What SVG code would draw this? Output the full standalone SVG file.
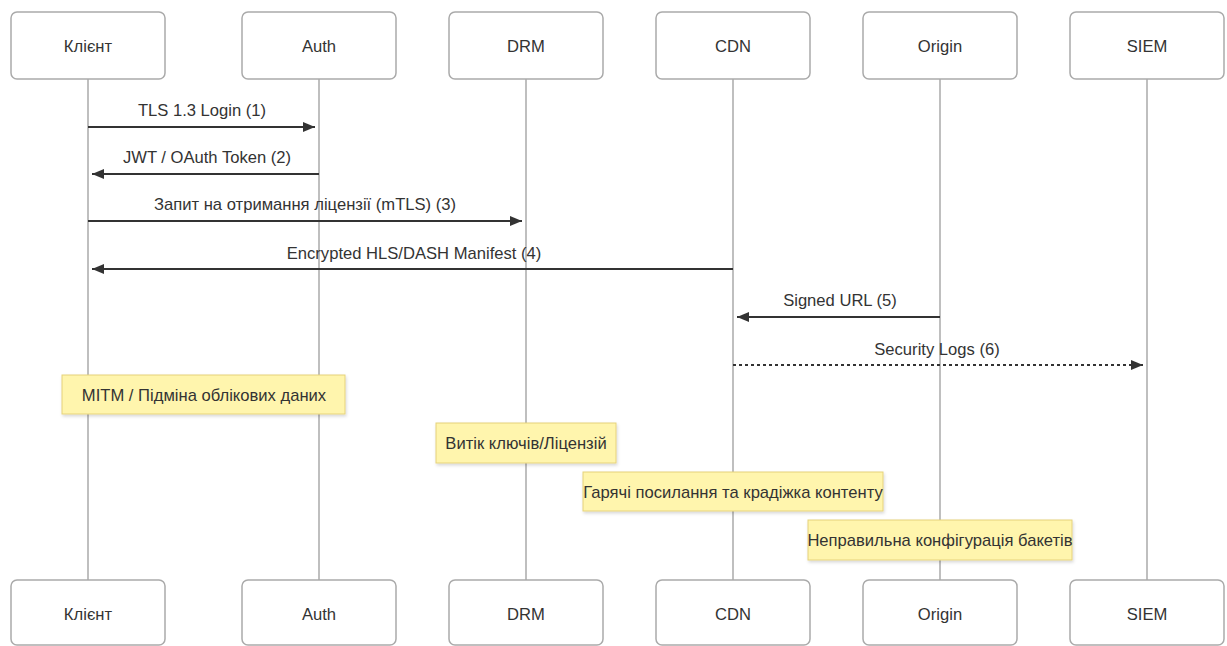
<svg xmlns="http://www.w3.org/2000/svg" width="1227" height="646" viewBox="0 0 1227 646">
  <style>
    .actor { fill: #ffffff; stroke: #aaaaaa; stroke-width: 1.5; }
    .actor-text { font-family: "Liberation Sans", Arial, sans-serif; font-size: 16.6px; fill: #333333; text-anchor: middle; }
    .lifeline { stroke: #aaaaaa; stroke-width: 1.5; fill: none; }
    .msg { stroke: #333333; stroke-width: 2; fill: none; }
    .msg-dotted { stroke: #333333; stroke-width: 2; fill: none; stroke-dasharray: 3 3; }
    .msg-text { font-family: "Liberation Sans", Arial, sans-serif; font-size: 16.6px; fill: #333333; text-anchor: middle; }
    .note { fill: #fff5ad; stroke: #e6d27a; stroke-width: 1; }
    .note-text { font-family: "Liberation Sans", Arial, sans-serif; font-size: 16.6px; fill: #333333; text-anchor: middle; }
  </style>
  <defs>
    <marker id="arrowhead" viewBox="0 0 12 10" refX="12" refY="5" markerWidth="12" markerHeight="10" markerUnits="userSpaceOnUse" orient="auto">
      <path d="M0,0 L12,5 L0,10 Z" fill="#333333"/>
    </marker>
    <filter id="noteShadow" x="-10%" y="-20%" width="120%" height="150%">
      <feDropShadow dx="1" dy="2" stdDeviation="1.5" flood-color="#000000" flood-opacity="0.15"/>
    </filter>
  </defs>

  <rect width="1227" height="646" fill="#ffffff"/>

  <!-- lifelines -->
  <g id="lifelines">
    <line class="lifeline" x1="88" y1="79" x2="88" y2="580"/>
    <line class="lifeline" x1="319" y1="79" x2="319" y2="580"/>
    <line class="lifeline" x1="526" y1="79" x2="526" y2="580"/>
    <line class="lifeline" x1="733" y1="79" x2="733" y2="580"/>
    <line class="lifeline" x1="940" y1="79" x2="940" y2="580"/>
    <line class="lifeline" x1="1147" y1="79" x2="1147" y2="580"/>
  </g>

  <!-- participants (top and bottom) -->
  <g id="client">
    <rect class="actor" x="11" y="12" width="154" height="67" rx="6"/>
    <text class="actor-text" x="88" y="52">Клієнт</text>
    <rect class="actor" x="11" y="580" width="154" height="65" rx="6"/>
    <text class="actor-text" x="88" y="620">Клієнт</text>
  </g>
  <g id="auth">
    <rect class="actor" x="242" y="12" width="154" height="67" rx="6"/>
    <text class="actor-text" x="319" y="52">Auth</text>
    <rect class="actor" x="242" y="580" width="154" height="65" rx="6"/>
    <text class="actor-text" x="319" y="620">Auth</text>
  </g>
  <g id="drm">
    <rect class="actor" x="449" y="12" width="154" height="67" rx="6"/>
    <text class="actor-text" x="526" y="52">DRM</text>
    <rect class="actor" x="449" y="580" width="154" height="65" rx="6"/>
    <text class="actor-text" x="526" y="620">DRM</text>
  </g>
  <g id="cdn">
    <rect class="actor" x="656" y="12" width="154" height="67" rx="6"/>
    <text class="actor-text" x="733" y="52">CDN</text>
    <rect class="actor" x="656" y="580" width="154" height="65" rx="6"/>
    <text class="actor-text" x="733" y="620">CDN</text>
  </g>
  <g id="origin">
    <rect class="actor" x="863" y="12" width="154" height="67" rx="6"/>
    <text class="actor-text" x="940" y="52">Origin</text>
    <rect class="actor" x="863" y="580" width="154" height="65" rx="6"/>
    <text class="actor-text" x="940" y="620">Origin</text>
  </g>
  <g id="siem">
    <rect class="actor" x="1070" y="12" width="154" height="67" rx="6"/>
    <text class="actor-text" x="1147" y="52">SIEM</text>
    <rect class="actor" x="1070" y="580" width="154" height="65" rx="6"/>
    <text class="actor-text" x="1147" y="620">SIEM</text>
  </g>

  <!-- messages -->
  <g id="messages">
    <line class="msg" x1="88" y1="127" x2="315" y2="127" marker-end="url(#arrowhead)"/>
    <text class="msg-text" x="202" y="116">TLS 1.3 Login (1)</text>

    <line class="msg" x1="319" y1="174" x2="92" y2="174" marker-end="url(#arrowhead)"/>
    <text class="msg-text" x="207" y="163">JWT / OAuth Token (2)</text>

    <line class="msg" x1="88" y1="221" x2="522" y2="221" marker-end="url(#arrowhead)"/>
    <text class="msg-text" x="305" y="210">Запит на отримання ліцензії (mTLS) (3)</text>

    <line class="msg" x1="733" y1="269" x2="92" y2="269" marker-end="url(#arrowhead)"/>
    <text class="msg-text" x="414" y="259">Encrypted HLS/DASH Manifest (4)</text>

    <line class="msg" x1="940" y1="317" x2="737" y2="317" marker-end="url(#arrowhead)"/>
    <text class="msg-text" x="840" y="306">Signed URL (5)</text>

    <line class="msg-dotted" x1="733" y1="365" x2="1143" y2="365" marker-end="url(#arrowhead)"/>
    <text class="msg-text" x="937" y="355">Security Logs (6)</text>
  </g>

  <!-- notes -->
  <g id="note-mitm">
    <rect class="note" x="62" y="375" width="283" height="39" filter="url(#noteShadow)"/>
    <text class="note-text" x="204" y="401">MITM / Підміна облікових даних</text>
  </g>
  <g id="note-leak">
    <rect class="note" x="436" y="423" width="180" height="40" filter="url(#noteShadow)"/>
    <text class="note-text" x="526" y="449">Витік ключів/Ліцензій</text>
  </g>
  <g id="note-hotlink">
    <rect class="note" x="583" y="472" width="300" height="39" filter="url(#noteShadow)"/>
    <text class="note-text" x="733" y="498">Гарячі посилання та крадіжка контенту</text>
  </g>
  <g id="note-bucket">
    <rect class="note" x="808" y="520" width="264" height="40" filter="url(#noteShadow)"/>
    <text class="note-text" x="940" y="546">Неправильна конфігурація бакетів</text>
  </g>
</svg>
